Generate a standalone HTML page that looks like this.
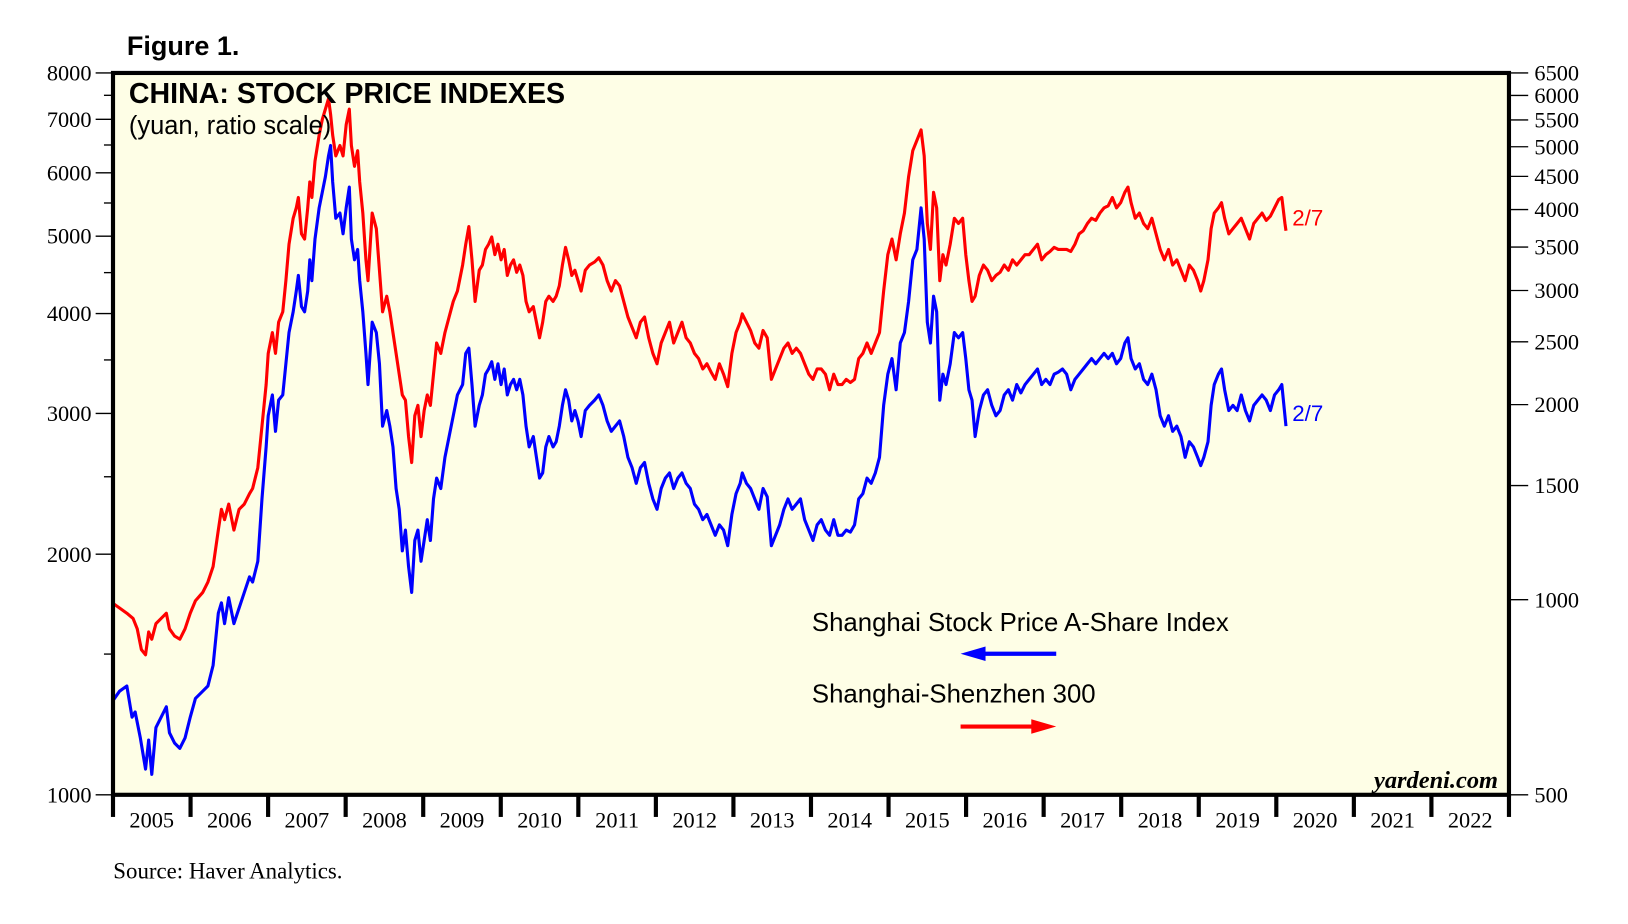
<!DOCTYPE html>
<html><head><meta charset="utf-8"><style>
html,body{margin:0;padding:0;background:#fff;}
svg{display:block;}
</style></head><body>
<svg width="1628" height="924" viewBox="0 0 1566 889" preserveAspectRatio="none" xmlns="http://www.w3.org/2000/svg">
<rect x="0" y="0" width="1566" height="889" fill="#fff"/>
<rect x="108.7" y="70.2" width="1342.8" height="694.5" fill="#fefee6"/>
<g font-family="Liberation Serif, serif" font-size="21.5" fill="#000">
<g stroke="#000" stroke-width="1.3">
<line x1="92" y1="764.7" x2="108" y2="764.7"/><line x1="100" y1="629.3" x2="108" y2="629.3"/>
<line x1="92" y1="533.2" x2="108" y2="533.2"/><line x1="100" y1="458.7" x2="108" y2="458.7"/>
<line x1="92" y1="397.8" x2="108" y2="397.8"/><line x1="100" y1="346.3" x2="108" y2="346.3"/>
<line x1="92" y1="301.7" x2="108" y2="301.7"/><line x1="100" y1="262.3" x2="108" y2="262.3"/>
<line x1="92" y1="227.2" x2="108" y2="227.2"/><line x1="100" y1="195.3" x2="108" y2="195.3"/>
<line x1="92" y1="166.3" x2="108" y2="166.3"/><line x1="100" y1="139.5" x2="108" y2="139.5"/>
<line x1="92" y1="114.8" x2="108" y2="114.8"/><line x1="100" y1="91.7" x2="108" y2="91.7"/>
<line x1="92" y1="70.2" x2="108" y2="70.2"/>
<line x1="1452" y1="764.7" x2="1470" y2="764.7"/><line x1="1452" y1="577" x2="1470" y2="577"/>
<line x1="1452" y1="467.2" x2="1470" y2="467.2"/><line x1="1452" y1="389.3" x2="1470" y2="389.3"/>
<line x1="1452" y1="328.9" x2="1470" y2="328.9"/><line x1="1452" y1="279.5" x2="1470" y2="279.5"/>
<line x1="1452" y1="237.7" x2="1470" y2="237.7"/><line x1="1452" y1="201.6" x2="1470" y2="201.6"/>
<line x1="1452" y1="169.7" x2="1470" y2="169.7"/><line x1="1452" y1="141.2" x2="1470" y2="141.2"/>
<line x1="1452" y1="115.4" x2="1470" y2="115.4"/><line x1="1452" y1="91.8" x2="1470" y2="91.8"/>
<line x1="1452" y1="70.2" x2="1470" y2="70.2"/>
</g>
<g text-anchor="end">
<text x="88" y="772">1000</text><text x="88" y="540.5">2000</text><text x="88" y="405">3000</text>
<text x="88" y="309">4000</text><text x="88" y="234.5">5000</text><text x="88" y="173.5">6000</text>
<text x="88" y="122">7000</text><text x="88" y="77.5">8000</text>
</g>
<g>
<text x="1476" y="772">500</text><text x="1476" y="584.3">1000</text><text x="1476" y="474.5">1500</text>
<text x="1476" y="396.6">2000</text><text x="1476" y="336.2">2500</text><text x="1476" y="286.8">3000</text>
<text x="1476" y="245">3500</text><text x="1476" y="209">4000</text><text x="1476" y="177">4500</text>
<text x="1476" y="148.5">5000</text><text x="1476" y="122.7">5500</text><text x="1476" y="99">6000</text>
<text x="1476" y="77.5">6500</text>
</g>
<g stroke="#000" stroke-width="4">
<line x1="108.7" y1="764" x2="108.7" y2="786"/><line x1="183.3" y1="764" x2="183.3" y2="786"/>
<line x1="257.9" y1="764" x2="257.9" y2="786"/><line x1="332.5" y1="764" x2="332.5" y2="786"/>
<line x1="407.1" y1="764" x2="407.1" y2="786"/><line x1="481.7" y1="764" x2="481.7" y2="786"/>
<line x1="556.3" y1="764" x2="556.3" y2="786"/><line x1="630.9" y1="764" x2="630.9" y2="786"/>
<line x1="705.5" y1="764" x2="705.5" y2="786"/><line x1="780.1" y1="764" x2="780.1" y2="786"/>
<line x1="854.7" y1="764" x2="854.7" y2="786"/><line x1="929.3" y1="764" x2="929.3" y2="786"/>
<line x1="1003.9" y1="764" x2="1003.9" y2="786"/><line x1="1078.5" y1="764" x2="1078.5" y2="786"/>
<line x1="1153.1" y1="764" x2="1153.1" y2="786"/><line x1="1227.7" y1="764" x2="1227.7" y2="786"/>
<line x1="1302.3" y1="764" x2="1302.3" y2="786"/><line x1="1376.9" y1="764" x2="1376.9" y2="786"/>
<line x1="1451.5" y1="764" x2="1451.5" y2="786"/>
</g>
<g text-anchor="middle" font-size="21.5">
<text x="146" y="796">2005</text><text x="220.6" y="796">2006</text><text x="295.2" y="796">2007</text>
<text x="369.8" y="796">2008</text><text x="444.4" y="796">2009</text><text x="519" y="796">2010</text>
<text x="593.6" y="796">2011</text><text x="668.2" y="796">2012</text><text x="742.8" y="796">2013</text>
<text x="817.4" y="796">2014</text><text x="892" y="796">2015</text><text x="966.6" y="796">2016</text>
<text x="1041.2" y="796">2017</text><text x="1115.8" y="796">2018</text><text x="1190.4" y="796">2019</text>
<text x="1265" y="796">2020</text><text x="1339.6" y="796">2021</text><text x="1414.2" y="796">2022</text>
</g>
<text x="109" y="845" font-size="22">Source: Haver Analytics.</text>
<text x="1441" y="758" text-anchor="end" font-size="23.5" font-style="italic" font-weight="bold">yardeni.com</text>
</g>

<polyline fill="none" stroke="#ff0000" stroke-width="3" stroke-linejoin="round" points="108,580 115,585 122,590 128,595 132,605 136,625 140,630 143,608 146,615 150,600 155,595 160,590 163,605 168,612 173,615 178,605 183,590 188,578 195,570 200,560 205,545 210,510 213,490 216,500 220,485 225,510 230,490 235,485 240,475 243,470 248,450 252,410 256,370 258,340 262,320 265,340 268,310 272,300 275,270 278,235 282,210 285,200 287,190 290,225 293,230 296,200 298,175 300,190 303,155 307,130 310,115 313,105 316,95 318,110 320,130 323,150 327,140 330,150 333,120 336,105 338,140 341,160 344,145 346,175 349,205 352,250 354,270 358,205 362,220 365,260 368,300 372,285 375,300 378,320 381,340 384,360 387,380 390,385 393,420 396,445 399,400 402,390 405,420 408,395 411,380 414,390 417,360 420,330 424,340 428,320 432,305 436,290 440,280 445,255 448,235 451,218 454,250 457,290 461,260 464,255 467,240 470,235 473,228 476,245 479,235 482,250 485,240 488,265 491,255 494,250 497,262 500,255 503,265 506,290 509,300 513,295 516,310 519,325 522,310 525,290 528,285 532,290 535,285 538,275 541,255 544,238 547,250 550,265 553,260 556,270 559,280 563,260 567,255 572,252 576,248 580,255 584,270 588,280 592,270 596,275 600,290 604,305 608,315 612,325 616,310 620,305 624,325 628,340 632,350 636,330 640,320 644,310 648,330 652,320 656,310 660,325 664,330 668,340 672,345 676,355 680,350 684,358 688,365 692,350 696,360 700,372 704,340 708,320 712,310 714,302 718,310 722,318 726,330 730,335 734,318 738,325 742,365 746,355 750,345 754,335 758,330 762,340 766,335 770,340 774,350 778,360 782,365 786,355 790,355 794,360 798,375 802,360 806,370 810,370 814,365 818,368 822,365 826,345 830,340 834,330 838,340 842,330 846,320 850,280 854,245 858,230 862,250 866,225 870,205 874,170 878,145 882,135 886,125 889,150 892,215 895,240 898,185 901,200 904,270 907,245 910,255 914,235 918,210 922,215 926,210 929,245 932,270 935,290 938,285 942,265 946,255 950,260 954,270 958,265 962,262 966,255 970,260 974,250 978,255 982,250 986,245 990,245 994,240 998,235 1002,250 1006,245 1010,242 1014,238 1018,240 1022,240 1026,240 1030,242 1034,235 1038,225 1042,222 1046,215 1050,210 1054,212 1058,205 1062,200 1066,198 1070,190 1074,200 1078,195 1082,185 1085,180 1088,195 1092,210 1096,205 1100,215 1104,220 1108,210 1112,225 1116,240 1120,250 1124,240 1128,255 1132,250 1136,260 1140,270 1144,255 1148,260 1152,270 1155,280 1158,270 1162,250 1165,220 1168,205 1172,200 1175,195 1178,210 1182,225 1186,220 1190,215 1194,210 1198,220 1202,230 1206,215 1210,210 1214,205 1218,212 1222,208 1226,200 1230,192 1233,190 1236,215 1237,222"/>
<polyline fill="none" stroke="#0000ff" stroke-width="3" stroke-linejoin="round" points="108,675 115,665 122,660 127,690 130,685 135,710 140,740 143,712 146,745 150,700 155,690 160,680 163,705 168,715 173,720 178,710 183,690 188,672 195,665 200,660 205,640 210,590 213,580 216,600 220,575 225,600 230,585 235,570 240,555 243,560 248,540 252,480 256,430 258,400 262,380 265,415 268,385 272,380 275,350 278,320 282,300 285,280 287,265 290,295 293,300 296,280 298,250 300,270 303,230 307,200 310,185 313,170 316,150 318,140 320,175 323,210 327,205 330,225 333,200 336,180 338,230 341,250 344,240 346,270 349,300 352,340 354,370 358,310 362,320 365,350 368,410 372,395 375,410 378,430 381,470 384,490 387,530 390,510 393,545 396,570 399,520 402,510 405,540 408,520 411,500 414,520 417,480 420,460 424,470 428,440 432,420 436,400 440,380 445,370 448,340 451,335 454,370 457,410 461,390 464,380 467,360 470,355 473,348 476,365 479,350 482,370 485,355 488,380 491,370 494,365 497,375 500,365 503,380 506,410 509,430 513,420 516,440 519,460 522,455 525,430 528,420 532,430 535,425 538,410 541,390 544,375 547,385 550,405 553,395 556,405 559,420 563,395 567,390 572,385 576,380 580,390 584,405 588,415 592,410 596,405 600,420 604,440 608,450 612,465 616,450 620,445 624,465 628,480 632,490 636,470 640,460 644,455 648,470 652,460 656,455 660,465 664,470 668,485 672,490 676,500 680,495 684,505 688,515 692,505 696,510 700,525 704,495 708,475 712,465 714,455 718,465 722,470 726,480 730,490 734,470 738,478 742,525 746,515 750,505 754,490 758,480 762,490 766,485 770,480 774,500 778,510 782,520 786,505 790,500 794,510 798,515 802,500 806,515 810,515 814,510 818,512 822,505 826,480 830,475 834,460 838,465 842,455 846,440 850,390 854,360 858,345 862,375 866,330 870,320 874,290 878,250 882,240 886,200 889,230 892,310 895,330 898,285 901,300 904,385 907,360 910,370 914,350 918,320 922,325 926,320 929,345 932,375 935,385 938,420 942,395 946,380 950,375 954,390 958,400 962,395 966,380 970,375 974,385 978,370 982,378 986,370 990,365 994,360 998,355 1002,370 1006,365 1010,370 1014,360 1018,358 1022,355 1026,360 1030,375 1034,365 1038,360 1042,355 1046,350 1050,345 1054,350 1058,345 1062,340 1066,345 1070,340 1074,350 1078,345 1082,330 1085,325 1088,345 1092,355 1096,350 1100,365 1104,370 1108,360 1112,375 1116,400 1120,410 1124,400 1128,415 1132,410 1136,420 1140,440 1144,425 1148,430 1152,440 1155,448 1158,440 1162,425 1165,390 1168,370 1172,360 1175,355 1178,375 1182,395 1186,390 1190,395 1194,380 1198,395 1202,405 1206,390 1210,385 1214,380 1218,385 1222,395 1226,380 1230,375 1233,370 1236,400 1237,410"/>

<rect x="108.7" y="70.2" width="1342.8" height="694.5" fill="none" stroke="#000" stroke-width="4"/>

<g font-family="Liberation Sans, sans-serif" fill="#000">
<text x="122" y="53" font-size="26" font-weight="bold">Figure 1.</text>
<text x="124" y="99" font-size="27.5" font-weight="bold">CHINA: STOCK PRICE INDEXES</text>
<text x="124" y="129" font-size="24.5">(yuan, ratio scale)</text>
<text x="781" y="607" font-size="24.8">Shanghai Stock Price A-Share Index</text>
<text x="781" y="676" font-size="24.8">Shanghai-Shenzhen 300</text>
<text x="1243" y="217" font-size="21.5" fill="#ff0000">2/7</text>
<text x="1243" y="405" font-size="21.5" fill="#0000ff">2/7</text>
</g>
<line x1="940" y1="629" x2="1016" y2="629" stroke="#0000ff" stroke-width="4"/>
<polygon points="924,629 948,622 948,636" fill="#0000ff"/>
<line x1="924" y1="699" x2="1000" y2="699" stroke="#ff0000" stroke-width="4"/>
<polygon points="1016,699 992,692 992,706" fill="#ff0000"/>
</svg>
</body></html>
